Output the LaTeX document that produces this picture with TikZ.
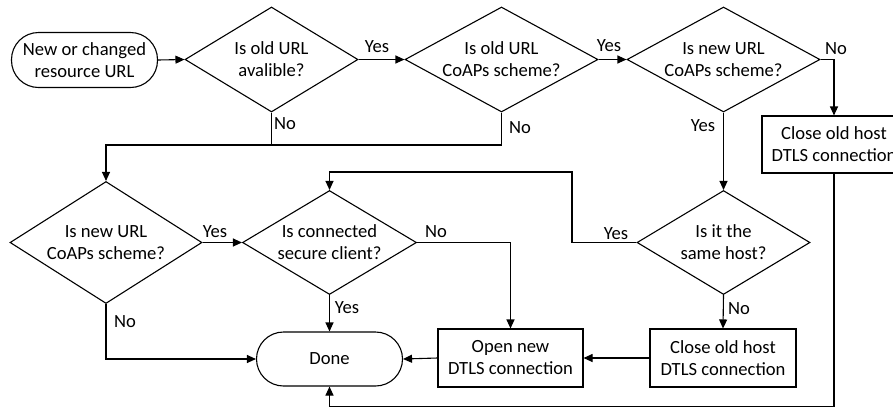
\documentclass[tikz,border=0pt]{standalone}
\usepackage{fontspec}
\setmainfont{Carlito}
\usetikzlibrary{arrows.meta,shapes.geometric}
\tikzset{
  every node/.style={font=\fontsize{18.6}{22}\selectfont},
  txt/.style={align=center, inner sep=0pt},
  dec/.style={draw, diamond, inner sep=0pt, line width=1.1pt, label={[txt]center:#1}},
  term/.style={draw, rectangle, rounded corners=27pt, minimum width=146pt, minimum height=55pt, align=center, inner sep=0pt, line width=1.1pt},
  proc/.style={draw, rectangle, minimum width=145pt, minimum height=58pt, align=center, inner sep=0pt, line width=1.1pt},
  conn/.style={line width=1.1pt},
  arr/.style={line width=1.1pt, -{Triangle[length=9pt,width=8pt]}},
  lbl/.style={inner sep=0pt}
}
\begin{document}
\begin{tikzpicture}[x=1pt,y=-1pt]
\useasboundingbox (0,0) rectangle (893,408);
\clip (0,0) rectangle (893,408);
% nodes
\node[term] (start) at (84.5,60) {New or changed\\resource URL};
\node[dec={Is old URL\\avalible?}, minimum width=173pt, minimum height=105pt] (d1) at (271.5,59.5) {};
\node[dec={Is old URL\\CoAPs scheme?}, minimum width=193pt, minimum height=105pt] (d2) at (501.5,59.5) {};
\node[dec={Is new URL\\CoAPs scheme?}, minimum width=193pt, minimum height=105pt] (d3) at (723.5,59.5) {};
\node[proc, minimum width=144pt, minimum height=57pt] (c1) at (834,144.5) {Close old host\\DTLS connection};
\node[dec={Is new URL\\CoAPs scheme?}, minimum width=192pt, minimum height=122pt] (d4) at (106,242.5) {};
\node[dec={Is connected\\secure client?}, minimum width=174pt, minimum height=104pt] (d5) at (329.5,242.5) {};
\node[dec={Is it the\\same host?}, minimum width=173pt, minimum height=104pt] (d6) at (723.5,242.5) {};
\node[term, minimum height=54pt] (done) at (329.5,359) {Done};
\node[proc] (open) at (510.5,358) {Open new\\DTLS connection};
\node[proc, minimum width=146pt] (c2) at (723,358) {Close old host\\DTLS connection};
% helper coordinates
\coordinate (bus) at (106,145);
\coordinate (k2) at (572,172);
\coordinate (k3) at (0,406.5);
% connectors
\draw[arr] (start.east) -- (d1.west);
\draw[arr] (d1.east) -- (d2.west);
\draw[arr] (d2.east) -- (d3.west);
\draw[arr] (d3.east) -| (c1.north);
\draw[arr] (d3.south) -- (d6.north);
\draw[conn] (d1.south) -- (d1.south |- bus);
\draw[arr] (d2.south) |- (bus) -- (d4.north);
\draw[arr] (d4.east) -- (d5.west);
\draw[arr] (d5.east) -| (open.north);
\draw[arr] (d5.south) -- (done.north);
\draw[arr] (d4.south) |- (done.west);
\draw[arr] (d6.west) -| (k2) -| (d5.north);
\draw[arr] (d6.south) -- (c2.north);
\draw[arr] (c2.west) -- (open.east);
\draw[arr] (open.west) -- (done.east);
\draw[arr] (c1.south) |- (k3 -| done.south) -- (done.south);
% labels
\node[lbl] (l1) at (377,47) {Yes};
\node[lbl] (l2) at (609,46) {Yes};
\node[lbl] (l3) at (836,49) {No};
\node[lbl] (l4) at (703,126) {Yes};
\node[lbl] (l5) at (285,124) {No};
\node[lbl] (l6) at (520,128) {No};
\node[lbl] (l7) at (215,232) {Yes};
\node[lbl] (l8) at (436,232) {No};
\node[lbl] (l9) at (347,308) {Yes};
\node[lbl] (l10) at (125,322) {No};
\node[lbl] (l11) at (616,234) {Yes};
\node[lbl] (l12) at (739,309) {No};
\end{tikzpicture}
\end{document}
